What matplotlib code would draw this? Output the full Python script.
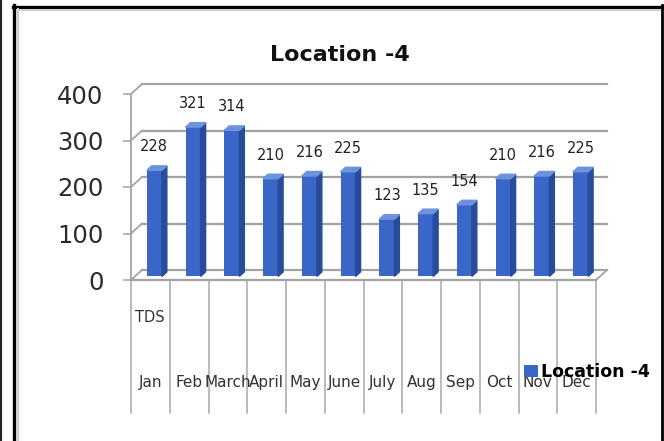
import numpy as np
import matplotlib
matplotlib.use("Agg")
import matplotlib.pyplot as plt
from matplotlib.patches import Polygon
from matplotlib.lines import Line2D

months = ['Jan', 'Feb', 'March', 'April', 'May', 'June', 'July', 'Aug', 'Sep', 'Oct', 'Nov', 'Dec']
tds = [228, 321, 314, 210, 216, 225, 123, 135, 154, 210, 216, 225]
yticks = [0, 100, 200, 300, 400]
series_name = 'Location -4'
row_name = 'TDS'

W, H = 664, 441
fig = plt.figure(figsize=(W / 100, H / 100), dpi=100, facecolor='white')

# axes placed so x = -0.5..11.5 and y = 0..400 sit on the front plane of the 3D box
ax = fig.add_axes([131 / W, 1 - 280 / H, (596 - 131) / W, (280 - 94) / H])
ax.set_xlim(-0.5, 11.5)
ax.set_ylim(0, 400)
for s in ax.spines.values():
    s.set_visible(False)
ax.set_xticks([])
ax.set_yticks(yticks)
ax.tick_params(axis='y', length=5.8, width=1.1, color='#a0a0a0', pad=14,
               labelsize=17.5, labelcolor='#2b2b2b')
ax.patch.set_alpha(0)

grid_c = '#a3a3a3'
dxd, dyd = 0.284, 21.5       # depth of the box (x in categories, y in value units)
x = np.arange(len(tds))
x0, x1 = -0.5, len(tds) - 0.5

# back wall gridlines + left wall diagonals
for v in yticks:
    ax.plot([x0 + dxd, x1 + dxd], [v + dyd, v + dyd], color=grid_c, lw=1.6, clip_on=False, zorder=1)
    ax.plot([x0, x0 + dxd], [v, v + dyd], color=grid_c, lw=1.3, clip_on=False, zorder=1)
ax.plot([x0, x0], [0, 400], color=grid_c, lw=1.3, clip_on=False, zorder=2)
ax.plot([x0, x1], [0, 0], color=grid_c, lw=1.6, clip_on=False, zorder=2)
ax.plot([x1, x1 + dxd], [0, dyd], color=grid_c, lw=1.3, clip_on=False, zorder=2)

# 3D-looking bars
f = 0.36
w = 0.39
off_x, base = f * dxd, f * dyd
sdx, sdy = 0.45 * dxd, 0.45 * dyd
front_c, side_c, top_c = '#3a66c8', '#284c9c', '#6d92de'
ax.bar(x + off_x, tds, width=w, bottom=base, color=front_c, zorder=3, label=series_name)
for xi, v in zip(x, tds):
    l = xi + off_x - w / 2
    r = xi + off_x + w / 2
    t = base + v
    ax.add_patch(Polygon([[r, base], [r + sdx, base + sdy], [r + sdx, t + sdy], [r, t]],
                         closed=True, color=side_c, zorder=3, clip_on=False))
    ax.add_patch(Polygon([[l, t], [r, t], [r + sdx, t + sdy], [l + sdx, t + sdy]],
                         closed=True, color=top_c, zorder=3, clip_on=False))
    ax.annotate(str(v), (xi + off_x, t), xytext=(0, 17), textcoords='offset points',
                ha='center', va='center', fontsize=10.5, color='#222222', zorder=4)

# data table below the plot
bottom = -286
for b in np.arange(len(tds) + 1) - 0.5:
    ax.plot([b, b], [0, bottom], color='#a8a8a8', lw=1.1, clip_on=False, zorder=1)
for xi, m in zip(x, months):
    ax.text(xi, -221, m, ha='center', va='center', fontsize=11, color='#333333', clip_on=False)
ax.text(-0.4, -80, row_name, ha='left', va='center', fontsize=10.5, color='#333333')

# title and legend
fig.text(340 / W, 1 - 55 / H, series_name, ha='center', va='center', fontsize=16,
         fontweight='bold', color='#111111')
fig.legend(loc='center left', bbox_to_anchor=(524 / W, 1 - 372 / H), frameon=False,
           prop={'size': 12.5, 'weight': 'bold'}, handlelength=0.8, handleheight=0.65,
           handletextpad=0.2, borderpad=0, borderaxespad=0)

# picture frame
def fline(xs, ys, c, lw):
    fig.add_artist(Line2D([p / W for p in xs], [1 - p / H for p in ys], color=c, lw=lw))

fline([1, 1], [0, H], '#222222', 1.5)
fline([14, 14], [5, H], 'black', 2.4)
fline([13, 663], [6.5, 6.5], 'black', 2.4)
fline([662, 662], [5, H], 'black', 2.0)
fline([18, 18], [9, H], '#c8c8c8', 1.5)
fline([17, 660], [10, 10], '#d0d0d0', 1.5)

fig.savefig('out.png', dpi=100, facecolor='white')
